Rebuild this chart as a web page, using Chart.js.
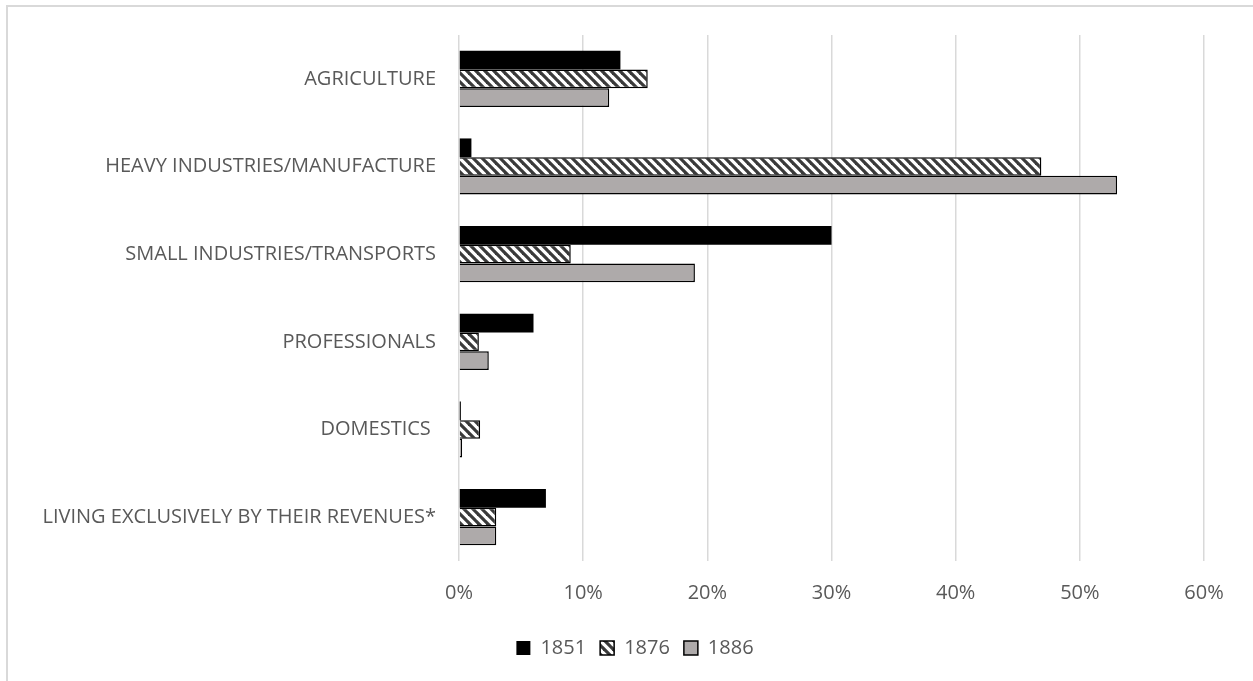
<!DOCTYPE html>
<html>
<head>
<meta charset="utf-8">
<title>Occupational structure, 1851–1886</title>
<script src="https://cdn.jsdelivr.net/npm/chart.js@4/dist/chart.umd.min.js"></script>
<style>
  html, body { margin: 0; padding: 0; background: #ffffff; overflow: hidden; }
  #frame {
    position: absolute; left: 6px; top: 5px;
    width: 3000px; height: 3000px;
    border: 2px solid #d9d9d9;
    box-sizing: border-box;
  }
  #wrap { position: absolute; left: 0; top: 0; width: 1253px; height: 681px; }
</style>
</head>
<body>
<div id="frame"></div>
<div id="wrap"><canvas id="chart" width="1253" height="681"></canvas></div>
<script>
// Occupational categories (top to bottom)
const categories = [
  'AGRICULTURE',
  'HEAVY INDUSTRIES/MANUFACTURE',
  'SMALL INDUSTRIES/TRANSPORTS',
  'PROFESSIONALS',
  'DOMESTICS ',
  'LIVING EXCLUSIVELY BY THEIR REVENUES*'
];

// Share of each category, in percent
const years = ['1851', '1876', '1886'];
const values1851 = [13.0, 1.0, 30.0, 6.0, 0.15, 7.0];
const values1876 = [15.2, 46.9, 9.0, 1.6, 1.7, 3.0];
const values1886 = [12.1, 53.0, 19.0, 2.4, 0.25, 3.0];

// Axis ticks, in percent
const axisTicks = [0, 10, 20, 30, 40, 50, 60];

// Diagonal hatch fill for the 1876 series
function makeHatch() {
  const p = 9;
  const c = document.createElement('canvas');
  c.width = p; c.height = p;
  const g = c.getContext('2d');
  g.fillStyle = '#ffffff';
  g.fillRect(0, 0, p, p);
  g.strokeStyle = '#3a3a3a';
  g.lineWidth = 3.2;
  g.lineCap = 'square';
  for (let k = -1; k <= 1; k++) {
    g.beginPath();
    g.moveTo(k * p, 0);
    g.lineTo(k * p + p, p);
    g.stroke();
  }
  return document.getElementById('chart').getContext('2d').createPattern(c, 'repeat');
}

// Centre the legend under the whole frame rather than the padded area
const legendShift = {
  id: 'legendShift',
  afterLayout(chart) {
    if (chart.legend) {
      chart.legend.left += 33;
      chart.legend.right += 33;
    }
  }
};

const textColor = '#595959';
const fontFamily = '"Open Sans", "Noto Sans", sans-serif';

new Chart(document.getElementById('chart'), {
  type: 'bar',
  plugins: [legendShift],
  data: {
    labels: categories,
    datasets: [
      {
        label: years[0],
        data: values1851,
        backgroundColor: '#000000',
        borderColor: '#000000',
        borderWidth: 0
      },
      {
        label: years[1],
        data: values1876,
        backgroundColor: makeHatch(),
        borderColor: '#000000',
        borderWidth: 1.5
      },
      {
        label: years[2],
        data: values1886,
        backgroundColor: '#aeaaaa',
        borderColor: '#000000',
        borderWidth: 1.5
      }
    ]
  },
  options: {
    indexAxis: 'y',
    responsive: false,
    animation: false,
    devicePixelRatio: 1,
    layout: { padding: { left: 0, right: 49, top: 34, bottom: 13 } },
    datasets: {
      bar: { categoryPercentage: 0.64, barPercentage: 1.0 }
    },
    scales: {
      x: {
        type: 'linear',
        min: axisTicks[0],
        max: axisTicks[axisTicks.length - 1],
        afterBuildTicks: (s) => { s.ticks = axisTicks.map(v => ({ value: v })); },
        afterFit: (s) => { s.height = 63; },
        grid: { color: '#d9d9d9', lineWidth: 1.5, drawTicks: false },
        border: { display: false },
        ticks: {
          padding: 20,
          color: textColor,
          font: { family: fontFamily, size: 20 },
          callback: (v) => v + '%'
        }
      },
      y: {
        afterFit: (s) => { s.width = 459; },
        grid: { display: false, drawTicks: false },
        border: { display: false },
        ticks: {
          padding: 23,
          color: textColor,
          font: { family: fontFamily, size: 20 }
        }
      }
    },
    plugins: {
      tooltip: { enabled: false },
      legend: {
        position: 'bottom',
        labels: {
          boxWidth: 14,
          boxHeight: 14,
          padding: 14,
          color: textColor,
          font: { family: fontFamily, size: 20 }
        }
      }
    }
  }
});
</script>
</body>
</html>
